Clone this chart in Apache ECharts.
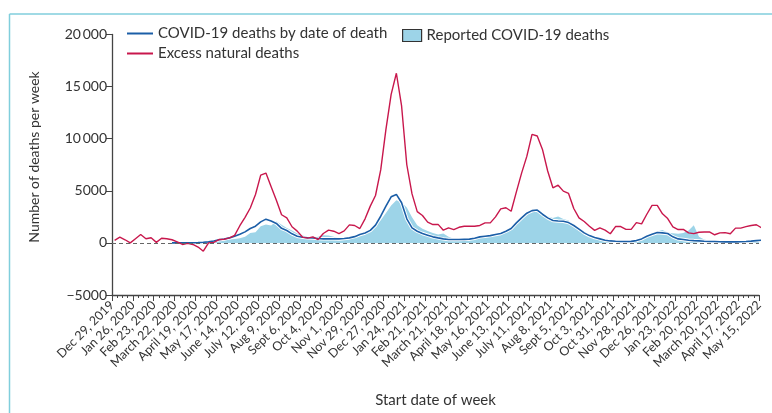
<!DOCTYPE html>
<html>
<head>
<meta charset="utf-8">
<script src="https://cdn.jsdelivr.net/npm/echarts@6/dist/echarts.min.js"></script>
<style>
html, body { margin: 0; padding: 0; background: #fff; }
#chart { width: 772px; height: 413px; }
</style>
</head>
<body>
<div id="chart"></div>
<script>
// tick labels, one every 4 weeks
const weekLabels = ['Dec 29, 2019', 'Jan 26, 2020', 'Feb 23, 2020', 'March 22, 2020', 'April 19, 2020', 'May 17, 2020',
    'June 14, 2020', 'July 12, 2020', 'Aug 9, 2020', 'Sept 6, 2020', 'Oct 4, 2020', 'Nov 1, 2020', 'Nov 29, 2020',
    'Dec 27, 2020', 'Jan 24, 2021', 'Feb 21, 2021', 'March 21, 2021', 'April 18, 2021', 'May 16, 2021', 'June 13, 2021',
    'July 11, 2021', 'Aug 8, 2021', 'Sept 5, 2021', 'Oct 3, 2021', 'Oct 31, 2021', 'Nov 28, 2021', 'Dec 26, 2021',
    'Jan 23, 2022', 'Feb 20, 2022', 'March 20, 2022', 'April 17, 2022', 'May 15, 2022'];

// weekly values, week 0 = Dec 29, 2019
const excessDeaths = [250, 550, 300, 0, 400, 800, 400, 500, 50, 450, 400, 300, 100, -150, -50, -150, -400, -800, 0, 50,
    320, 350, 480, 720, 1650, 2450, 3350, 4650, 6500, 6700, 5400, 4100, 2700, 2400, 1550, 1130, 560, 460, 580, 320, 900,
    1220, 1120, 900, 1150, 1730, 1670, 1380, 2310, 3530, 4550, 7000, 10900, 14260, 16280, 13140, 7500, 4700, 3000, 2630, 1990, 1760, 1780,
    1220, 1440, 1280, 1500, 1600, 1600, 1600, 1670, 1920, 1920, 2500, 3270, 3370, 3040, 4900, 6700, 8300, 10420, 10260, 8970,
    6900, 5290, 5540, 4970, 4750, 3300, 2400, 2050, 1600, 1200, 1440, 1230, 880, 1570, 1570, 1300, 1300, 1950, 1820, 2750,
    3600, 3600, 2790, 2340, 1540, 1280, 1300, 960, 890, 1025, 1050, 1050, 780, 960, 980, 880, 1420, 1420, 1560, 1670, 1740, 1440];

const covidByDateOfDeath = [null, null, null, null, null, null, null, null, null, null, null,
    0, 5, 10, 15, 20, 30, 60, 100, 180, 300,
    380, 480, 640, 830, 1060, 1380, 1600, 2020, 2280, 2100,
    1870, 1400, 1190, 870, 640, 545, 500, 470, 420, 390,
    400, 390, 385, 420, 480, 600, 800, 950, 1200, 1700,
    2560, 3530, 4420, 4650, 3850, 2310, 1440, 1120, 900, 740,
    580, 480, 385, 320, 320, 320, 340, 360, 450, 580,
    640, 700, 800, 900, 1120, 1380, 1920, 2400, 2850, 3100,
    3150, 2750, 2400, 2150, 2100, 2080, 1950, 1670, 1330, 960,
    700, 510, 385, 260, 190, 160, 140, 130, 150, 220,
    385, 640, 830, 1000, 960, 900, 580, 385, 320, 255,
    220, 190, 160, 140, 130, 110, 100, 100, 100, 110,
    130, 170, 220, 255];

const reportedDeaths = [null, null, null, null, null, null, null, null, null, null, null,
    0, 20, 40, 60, 80, 100, 130, 160, 200, 255,
    260, 320, 385, 450, 580, 960, 1025, 1600, 1760, 1670,
    2080, 1750, 1440, 1190, 900, 700, 580, 510, 580, 740,
    700, 580, 420, 420, 480, 580, 700, 900, 1220, 1600,
    2180, 2880, 3590, 4100, 3910, 3400, 2450, 1700, 1350, 1150,
    960, 800, 900, 600, 400, 330, 385, 420, 460, 545,
    640, 700, 800, 950, 1170, 1550, 2050, 2450, 2800, 2950,
    3000, 2750, 2550, 2400, 2530, 2300, 2150, 1760, 1350, 950,
    700, 480, 320, 255, 220, 190, 190, 200, 220, 255,
    385, 580, 780, 1100, 1250, 1000, 920, 880, 950, 1190,
    1700, 580, 320, 200, 130, 110, 100, 100, 100, 130,
    160, 175, 190, 220];

const FONT = 'Lato';
const INK = '#333';
const AXIS = '#444';

// points sit in the middle of their week
const toPoints = (arr) => arr.map((v, i) => [i + 0.5, v === null ? '-' : v]);

const formatY = (v) => {
    const abs = Math.abs(v);
    let s = abs >= 10000 ? Math.floor(abs / 1000) + '\u2009' + String(abs % 1000).padStart(3, '0') : String(abs);
    return v < 0 ? '\u2212' + s : s;
};

const chart = echarts.init(document.getElementById('chart'));
chart.setOption({
    animation: false,
    textStyle: { fontFamily: FONT },
    grid: { left: 112, right: 13, top: 34.5, bottom: 118 },
    graphic: [
        { type: 'line', shape: { x1: 9.5, y1: 14, x2: 772, y2: 14 }, style: { stroke: '#80cedc', lineWidth: 1.5 } },
        { type: 'line', shape: { x1: 9.5, y1: 14, x2: 9.5, y2: 413 }, style: { stroke: '#80cedc', lineWidth: 1.5 } },
        {
            type: 'text', x: 34, y: 157, rotation: Math.PI / 2,
            style: { text: 'Number of deaths per week', fill: INK, font: '14px ' + FONT, align: 'center', verticalAlign: 'middle' }
        }
    ],
    legend: [
        {
            left: 127, top: 26, padding: 0, selectedMode: false, icon: 'rect', itemWidth: 26, itemHeight: 2, itemGap: 5,
            itemStyle: { borderWidth: 0 },
            textStyle: { fontSize: 15, color: INK, fontFamily: FONT },
            data: ['COVID-19 deaths by date of death']
        },
        {
            left: 127, top: 46, padding: 0, selectedMode: false, icon: 'rect', itemWidth: 26, itemHeight: 2,
            itemStyle: { borderWidth: 0 },
            textStyle: { fontSize: 15, color: INK, fontFamily: FONT },
            data: ['Excess natural deaths']
        },
        {
            left: 402, top: 28, padding: 0, selectedMode: false, itemWidth: 19, itemHeight: 12,
            textStyle: { fontSize: 15, color: INK, fontFamily: FONT },
            data: [{ name: 'Reported COVID-19 deaths', icon: 'rect', itemStyle: { color: '#9dd4e8', borderColor: '#333', borderWidth: 1.2 } }]
        }
    ],
    xAxis: {
        type: 'value', min: 0, max: 124, interval: 4,
        name: 'Start date of week', nameLocation: 'middle', nameGap: 98,
        nameTextStyle: { fontSize: 15, color: INK, fontFamily: FONT },
        axisLine: { onZero: false, lineStyle: { color: AXIS, width: 1.3 } },
        axisTick: { length: 6, lineStyle: { color: AXIS, width: 1 } },
        minorTick: { show: true, splitNumber: 4, length: 3, lineStyle: { color: AXIS, width: 1 } },
        splitLine: { show: false },
        axisLabel: {
            rotate: 45, fontSize: 12.5, color: INK, margin: 8, fontFamily: FONT,
            formatter: (v) => (v % 4 === 0 ? weekLabels[v / 4] || '' : '')
        }
    },
    yAxis: {
        type: 'value', min: -5000, max: 20000, interval: 5000,
        axisLine: { show: true, onZero: false, lineStyle: { color: AXIS, width: 1.3 } },
        axisTick: { show: true, length: 6, lineStyle: { color: AXIS, width: 1 } },
        splitLine: { show: false },
        axisLabel: { fontSize: 14, color: INK, margin: 5, fontFamily: FONT, formatter: formatY }
    },
    series: [
        {
            name: 'Reported COVID-19 deaths', type: 'line', data: toPoints(reportedDeaths),
            color: '#9dd4e8', symbol: 'none', clip: false, silent: true,
            lineStyle: { width: 0 }, areaStyle: { color: '#9dd4e8', opacity: 1 }, z: 1
        },
        {
            name: 'halo', type: 'line', data: toPoints(covidByDateOfDeath),
            symbol: 'none', clip: false, silent: true, lineStyle: { color: '#fff', width: 3.5 }, z: 2
        },
        {
            name: 'COVID-19 deaths by date of death', type: 'line', data: toPoints(covidByDateOfDeath),
            color: '#1b5ea7', symbol: 'none', clip: false, lineStyle: { color: '#1b5ea7', width: 1.6 }, z: 3
        },
        {
            name: 'Excess natural deaths', type: 'line', data: toPoints(excessDeaths),
            color: '#c8174c', symbol: 'none', clip: false, lineStyle: { color: '#c8174c', width: 1.4 }, z: 4,
            markLine: {
                silent: true, symbol: 'none', label: { show: false },
                lineStyle: { color: '#666', type: [4, 3], width: 1.2 },
                data: [{ yAxis: 0 }]
            }
        }
    ]
});
</script>
</body>
</html>
